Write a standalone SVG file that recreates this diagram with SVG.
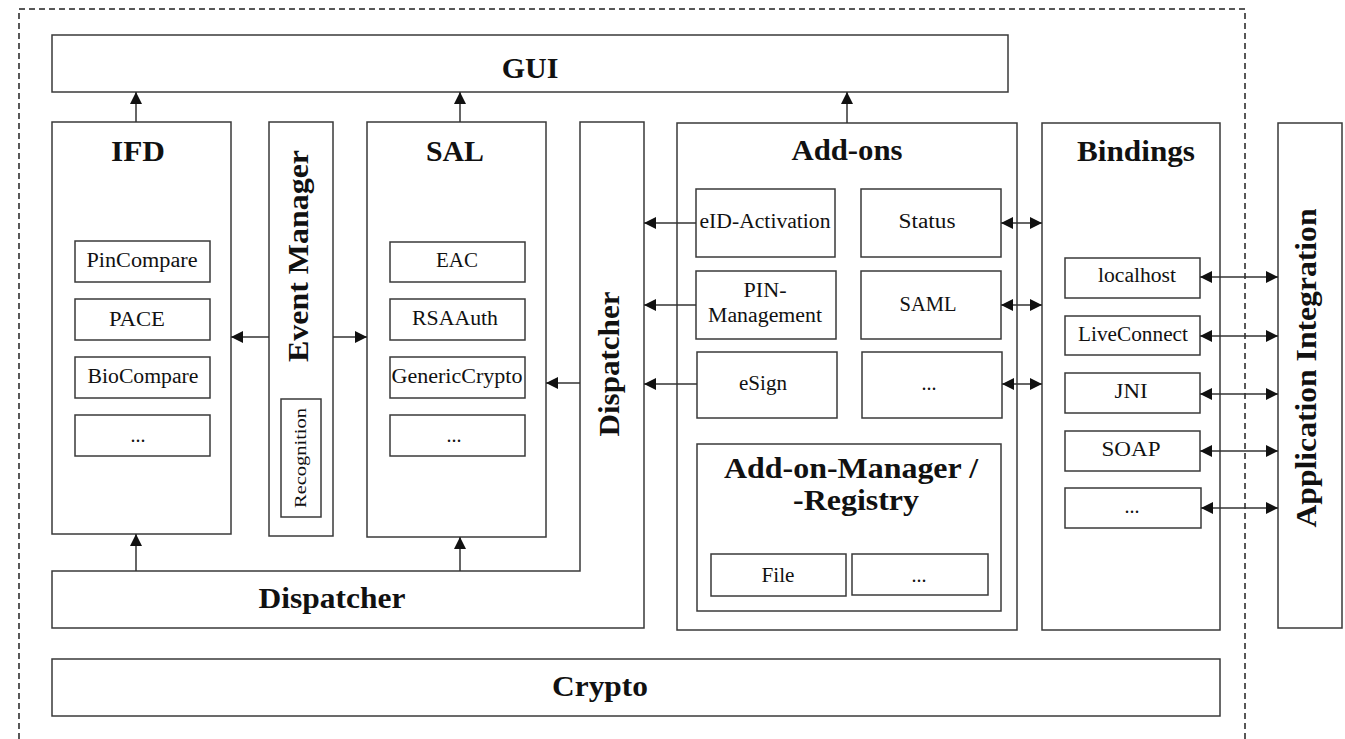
<svg xmlns="http://www.w3.org/2000/svg" width="1345" height="739" viewBox="0 0 1345 739">
  <style>
    .box { fill: #ffffff; stroke: #3a3a3a; stroke-width: 1.5; }
    .frame { fill: none; stroke: #222222; stroke-width: 1.5; stroke-dasharray: 6 4; }
    .conn { fill: none; stroke: #333333; stroke-width: 1.5; }
    text { font-family: "Liberation Serif", "Times New Roman", serif; fill: #111111; }
    .title { font-size: 30px; font-weight: bold; text-anchor: middle; }
    .label { font-size: 29px; font-weight: bold; text-anchor: middle; }
    .small { font-size: 20px; text-anchor: middle; }
    .tiny { font-size: 16px; text-anchor: middle; }
  </style>
  <defs>
    <marker id="head" viewBox="0 0 12 12" refX="12" refY="6" markerWidth="12" markerHeight="12" markerUnits="userSpaceOnUse" orient="auto-start-reverse">
      <path d="M0,0 L12,6 L0,12 z" fill="#111111"/>
    </marker>
  </defs>

  <rect width="1345" height="739" fill="#ffffff"/>

  <!-- client boundary -->
  <path class="frame" d="M19,739 V9 H1245 V739"/>

  <g id="gui">
    <rect class="box" x="52" y="35" width="956" height="57"/>
    <text class="title" x="530" y="78">GUI</text>
  </g>

  <g id="ifd">
    <rect class="box" x="52" y="122" width="179" height="412"/>
    <text class="title" x="138" y="161" textLength="54" lengthAdjust="spacingAndGlyphs">IFD</text>
    <rect class="box" x="75" y="241" width="135" height="41"/>
    <text class="small" x="142" y="267" textLength="111" lengthAdjust="spacingAndGlyphs">PinCompare</text>
    <rect class="box" x="75" y="299" width="135" height="41"/>
    <text class="small" x="137" y="326" textLength="56" lengthAdjust="spacingAndGlyphs">PACE</text>
    <rect class="box" x="75" y="357" width="135" height="41"/>
    <text class="small" x="143" y="383" textLength="111" lengthAdjust="spacingAndGlyphs">BioCompare</text>
    <rect class="box" x="75" y="415" width="135" height="41"/>
    <text class="small" x="138" y="442">...</text>
  </g>

  <g id="event-manager">
    <rect class="box" x="269" y="122" width="64" height="414"/>
    <text class="label" transform="translate(308,256) rotate(-90)" textLength="212" lengthAdjust="spacingAndGlyphs">Event Manager</text>
    <rect class="box" x="281" y="399" width="40" height="118"/>
    <text class="tiny" transform="translate(306,458) rotate(-90)" textLength="100" lengthAdjust="spacingAndGlyphs">Recognition</text>
  </g>

  <g id="sal">
    <rect class="box" x="367" y="122" width="179" height="415"/>
    <text class="title" x="455" y="161" textLength="58" lengthAdjust="spacingAndGlyphs">SAL</text>
    <rect class="box" x="390" y="242" width="135" height="40"/>
    <text class="small" x="457" y="267" textLength="42" lengthAdjust="spacingAndGlyphs">EAC</text>
    <rect class="box" x="390" y="299" width="135" height="41"/>
    <text class="small" x="455" y="325" textLength="86" lengthAdjust="spacingAndGlyphs">RSAAuth</text>
    <rect class="box" x="390" y="357" width="135" height="41"/>
    <text class="small" x="457" y="383" textLength="131" lengthAdjust="spacingAndGlyphs">GenericCrypto</text>
    <rect class="box" x="390" y="415" width="135" height="41"/>
    <text class="small" x="454" y="442">...</text>
  </g>

  <g id="dispatcher">
    <path class="box" d="M52,571 H580 V122 H644 V628 H52 Z"/>
    <text class="label" transform="translate(619,364) rotate(-90)" textLength="145" lengthAdjust="spacingAndGlyphs">Dispatcher</text>
    <text class="label" x="332" y="608" textLength="147" lengthAdjust="spacingAndGlyphs">Dispatcher</text>
  </g>

  <g id="add-ons">
    <rect class="box" x="677" y="123" width="340" height="507"/>
    <text class="title" x="847" y="160" textLength="111" lengthAdjust="spacingAndGlyphs">Add-ons</text>
    <rect class="box" x="696" y="189" width="139" height="68"/>
    <text class="small" x="765" y="228" textLength="131" lengthAdjust="spacingAndGlyphs">eID-Activation</text>
    <rect class="box" x="861" y="189" width="140" height="68"/>
    <text class="small" x="927" y="228" textLength="57" lengthAdjust="spacingAndGlyphs">Status</text>
    <rect class="box" x="696" y="271" width="140" height="68"/>
    <text class="small" x="765" y="297" textLength="43" lengthAdjust="spacingAndGlyphs">PIN-</text>
    <text class="small" x="765" y="322" textLength="114" lengthAdjust="spacingAndGlyphs">Management</text>
    <rect class="box" x="861" y="271" width="140" height="68"/>
    <text class="small" x="928" y="311" textLength="57" lengthAdjust="spacingAndGlyphs">SAML</text>
    <rect class="box" x="697" y="352" width="140" height="66"/>
    <text class="small" x="763" y="390" textLength="48" lengthAdjust="spacingAndGlyphs">eSign</text>
    <rect class="box" x="862" y="352" width="140" height="66"/>
    <text class="small" x="929" y="390">...</text>
  </g>

  <g id="add-on-manager">
    <rect class="box" x="697" y="444" width="304" height="167"/>
    <text class="title" x="851" y="478" textLength="254" lengthAdjust="spacingAndGlyphs">Add-on-Manager /</text>
    <text class="title" x="856" y="510" textLength="126" lengthAdjust="spacingAndGlyphs">-Registry</text>
    <rect class="box" x="711" y="554" width="135" height="42"/>
    <text class="small" x="778" y="582" textLength="33" lengthAdjust="spacingAndGlyphs">File</text>
    <rect class="box" x="852" y="554" width="136" height="41"/>
    <text class="small" x="919" y="582">...</text>
  </g>

  <g id="bindings">
    <rect class="box" x="1042" y="123" width="178" height="507"/>
    <text class="title" x="1136" y="161" textLength="118" lengthAdjust="spacingAndGlyphs">Bindings</text>
    <rect class="box" x="1065" y="258" width="135" height="40"/>
    <text class="small" x="1137" y="282" textLength="78" lengthAdjust="spacingAndGlyphs">localhost</text>
    <rect class="box" x="1065" y="316" width="135" height="39"/>
    <text class="small" x="1133" y="341" textLength="110" lengthAdjust="spacingAndGlyphs">LiveConnect</text>
    <rect class="box" x="1065" y="373" width="135" height="40"/>
    <text class="small" x="1131" y="398" textLength="33" lengthAdjust="spacingAndGlyphs">JNI</text>
    <rect class="box" x="1065" y="431" width="135" height="40"/>
    <text class="small" x="1131" y="456" textLength="59" lengthAdjust="spacingAndGlyphs">SOAP</text>
    <rect class="box" x="1065" y="488" width="136" height="40"/>
    <text class="small" x="1132" y="513">...</text>
  </g>

  <g id="application-integration">
    <rect class="box" x="1278" y="123" width="64" height="505"/>
    <text class="label" transform="translate(1316,368) rotate(-90)" textLength="319" lengthAdjust="spacingAndGlyphs">Application Integration</text>
  </g>

  <g id="crypto">
    <rect class="box" x="52" y="659" width="1168" height="57"/>
    <text class="label" x="600" y="696" textLength="96" lengthAdjust="spacingAndGlyphs">Crypto</text>
  </g>

  <g id="connectors">
    <!-- upward calls to the GUI -->
    <path class="conn" d="M136,122 V92" marker-end="url(#head)"/>
    <path class="conn" d="M460,122 V92" marker-end="url(#head)"/>
    <path class="conn" d="M847,123 V92" marker-end="url(#head)"/>
    <!-- event manager notifications -->
    <path class="conn" d="M269,337 H231" marker-end="url(#head)"/>
    <path class="conn" d="M333,337 H367" marker-end="url(#head)"/>
    <!-- dispatcher to IFD and SAL -->
    <path class="conn" d="M136,571 V534" marker-end="url(#head)"/>
    <path class="conn" d="M460,571 V537" marker-end="url(#head)"/>
    <path class="conn" d="M580,383 H546" marker-end="url(#head)"/>
    <!-- add-ons to dispatcher -->
    <path class="conn" d="M696,223 H644" marker-end="url(#head)"/>
    <path class="conn" d="M696,305 H644" marker-end="url(#head)"/>
    <path class="conn" d="M697,384 H644" marker-end="url(#head)"/>
    <!-- add-ons to bindings -->
    <path class="conn" d="M1001,223 H1042" marker-start="url(#head)" marker-end="url(#head)"/>
    <path class="conn" d="M1001,305 H1042" marker-start="url(#head)" marker-end="url(#head)"/>
    <path class="conn" d="M1002,384 H1042" marker-start="url(#head)" marker-end="url(#head)"/>
    <!-- bindings to application integration -->
    <path class="conn" d="M1200,277 H1278" marker-start="url(#head)" marker-end="url(#head)"/>
    <path class="conn" d="M1200,336 H1278" marker-start="url(#head)" marker-end="url(#head)"/>
    <path class="conn" d="M1200,394 H1278" marker-start="url(#head)" marker-end="url(#head)"/>
    <path class="conn" d="M1200,451 H1278" marker-start="url(#head)" marker-end="url(#head)"/>
    <path class="conn" d="M1201,508 H1278" marker-start="url(#head)" marker-end="url(#head)"/>
  </g>
</svg>
